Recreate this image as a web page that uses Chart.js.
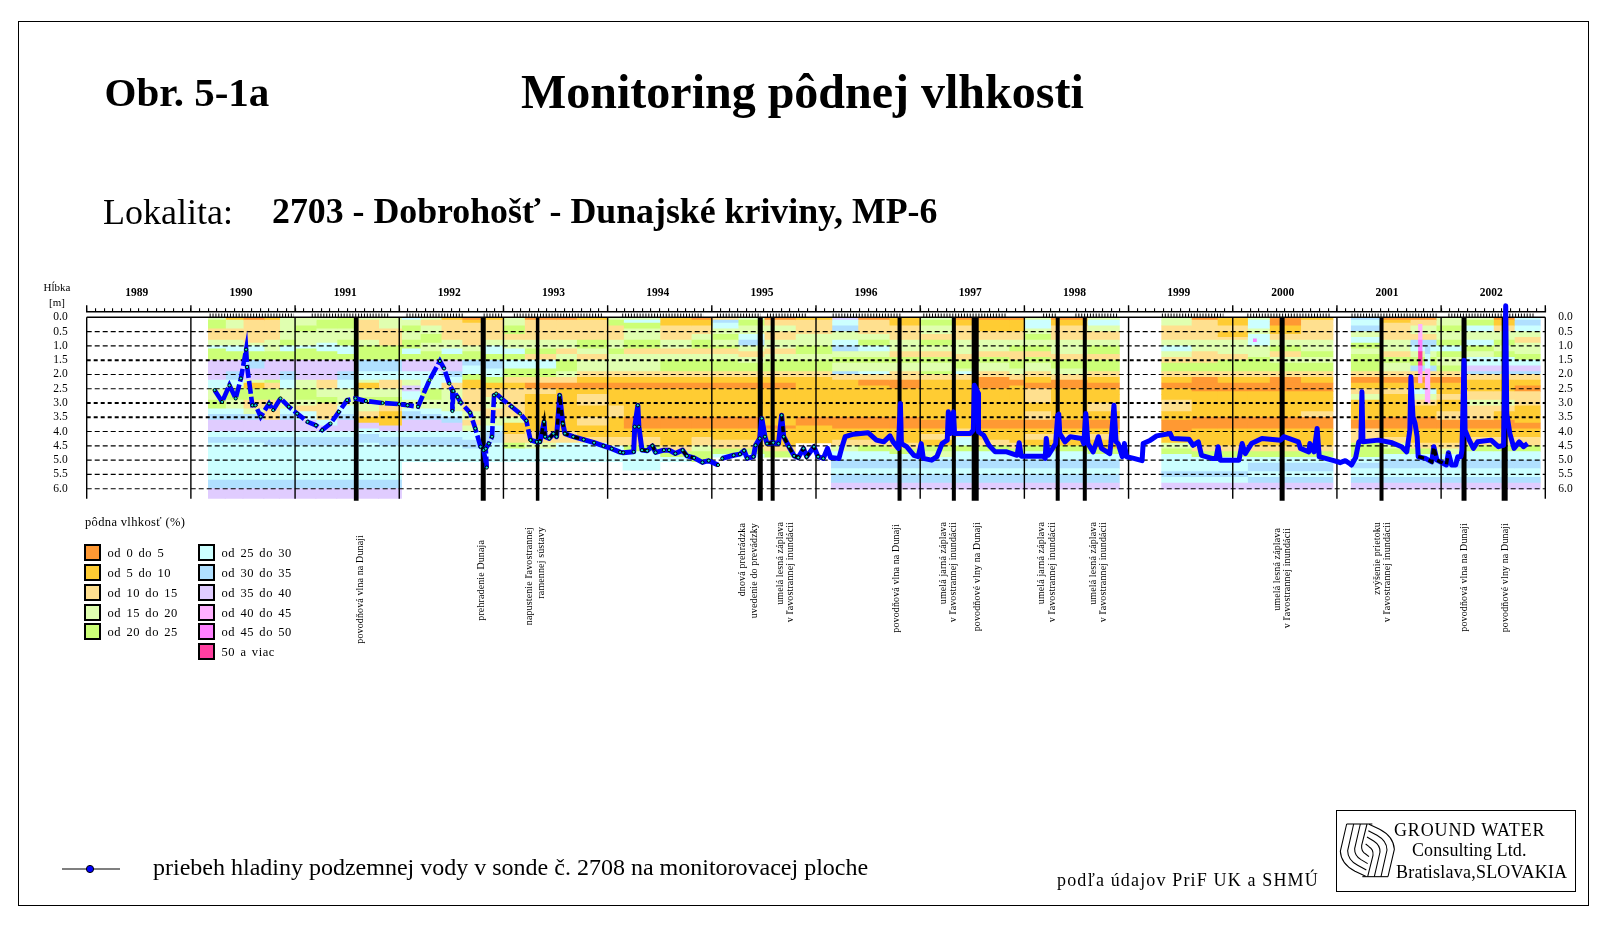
<!DOCTYPE html>
<html lang="sk">
<head>
<meta charset="utf-8">
<title>Monitoring pôdnej vlhkosti</title>
<script src="https://cdn.jsdelivr.net/npm/chart.js@4"></script>
<style>
html,body{margin:0;padding:0;background:#fff}
body{width:1610px;height:927px;position:relative;overflow:hidden;font-family:"Liberation Serif",serif;color:#000}
#chart{position:absolute;left:0;top:0;width:1610px;height:927px}
.t{position:absolute;white-space:nowrap;line-height:1}
.b{font-weight:bold}
.v{position:absolute;writing-mode:vertical-rl;transform:rotate(180deg);white-space:nowrap;font-size:10px;line-height:12px;width:12px;letter-spacing:.12px}
.sw{position:absolute;width:13px;height:13px;border:2px solid #000}
#frame{position:absolute;left:18px;top:21px;width:1569px;height:883px;border:1.5px solid #000}
#logo{position:absolute;left:1336px;top:810px;width:238px;height:80px;border:1.2px solid #000}
svg{position:absolute;overflow:visible}
</style>
</head>
<body>
<div id="frame"></div>
<canvas id="chart" width="1610" height="927"></canvas>
<div class="t b" style="left:104.5px;top:72px;font-size:41px">Obr. 5-1a</div>
<div class="t b" style="left:521px;top:68px;font-size:48px">Monitoring pôdnej vlhkosti</div>
<div class="t" style="left:103px;top:194px;font-size:36px">Lokalita:</div>
<div class="t b" style="left:272px;top:194px;font-size:35.8px">2703 - Dobrohošť - Dunajské kriviny, MP-6</div>
<div class="t" style="left:42px;top:282px;font-size:11px;width:30px;text-align:center">Hĺbka</div>
<div class="t" style="left:42px;top:297px;font-size:11px;width:30px;text-align:center">[m]</div>
<div id="legend"></div>
<div id="eventLabels"></div>
<svg style="left:0;top:0" width="1610" height="927">
  <line x1="62" y1="869" x2="120" y2="869" stroke="#000" stroke-width="1.2"/>
  <circle cx="90" cy="869" r="3.6" fill="#0000ff" stroke="#000" stroke-width="1"/>
</svg>
<div class="t" style="left:153px;top:855px;font-size:24px" id="note">priebeh hladiny podzemnej vody v sonde č. 2708 na monitorovacej ploche</div>
<div class="t" style="left:1057px;top:871px;font-size:18px;letter-spacing:1.15px">podľa údajov PriF UK a SHMÚ</div>
<div id="logo"></div>
<svg style="left:1335px;top:808px" width="90" height="80" viewBox="0 0 270 240">
  <g fill="none" stroke="#000" stroke-width="3.2">
    <g id="swirl">
      <path d="M35 48L16 130Q18 168 60 190L92 205"/>
      <path d="M56 48L38 128Q38 155 68 172L94 186"/>
      <path d="M76 48L59 122Q58 142 78 155L98 167"/>
      <path d="M96 48L80 112Q78 130 92 138L102 146"/>
      <path d="M35 48L112 48"/>
    </g>
    <use href="#swirl" transform="rotate(180 97 127)"/>
  </g>
</svg>
<div class="t" style="left:1394px;top:821px;font-size:18px;letter-spacing:.85px">GROUND WATER</div>
<div class="t" style="left:1412px;top:841px;font-size:18px;letter-spacing:.1px">Consulting Ltd.</div>
<div class="t" style="left:1396px;top:863px;font-size:18px;letter-spacing:.22px">Bratislava,SLOVAKIA</div>

<script>
// ---------- values ----------
const yearLabels = ['1989','1990','1991','1992','1993','1994','1995','1996','1997','1998','1999','2000','2001','2002'];
const depthTicks = [0,0.5,1,1.5,2,2.5,3,3.5,4,4.5,5,5.5,6];
const boldDepthLines = [1.5,3,3.5];

const classLabels = ['od 0 do 5','od 5 do 10','od 10 do 15','od 15 do 20','od 20 do 25','od 25 do 30','od 30 do 35','od 35 do 40','od 40 do 45','od 45 do 50','50 a viac'];
const classColors = ['#FF9933','#FFCC33','#FFE08F','#E0FFB0','#CCFF77','#CCFFFF','#B0E0FF','#E0CCFF','#FFB0FF','#FF80FF','#FF3FA0'];

// start year, end year, "end depth in decimetres:moisture class" runs
const moistureColumns = [
[1990.17,1990.33,"1:3,4:4,8:2,10:3,11:5,15:4,19:7,22:7,25:5,29:3,32:4,34:5,36:6,40:7,42:5,44:6,57:5,60:6,63.5:7"],
[1990.33,1990.5,"1:1,4:3,8:2,10:3,12:5,15:4,19:7,22:6,24:5,25:3,29:4,32:3,34:5,36:6,40:7,42:5,44:6,57:5,60:6,63.5:7"],
[1990.5,1990.7,"1:0,3:2,7:2,9:2,10:3,12:5,15:4,18:6,22:7,23:3,25:1,29:4,32:2,34:3,36:6,40:7,42:5,44:6,57:5,60:6,63.5:7"],
[1990.7,1990.85,"1:1,4:2,8:2,10:3,12:3,15:4,19:7,22:7,23:4,25:2,29:4,33:2,36:2,38:7,40:7,42:5,45:6,57:5,60:6,63.5:7"],
[1990.85,1991,"1:3,4:3,8:3,10:4,12:5,15:4,19:7,22:6,25:5,29:3,32:3,34:5,36:6,40:7,42:5,45:6,57:5,60:6,63.5:7"],
[1991,1991.2,"1:3,3:3,5:4,8:3,10:3,11:5,15:4,19:7,22:7,25:3,29:4,31:3,33:2,36:5,40:7,42:5,45:6,57:5,60:6,63.5:7"],
[1991.2,1991.4,"1:3,4:4,7:3,9:3,12:5,15:4,18:7,22:7,25:2,28:3,30:4,36:2,38:5,40:7,42:5,45:6,57:5,60:6,63.5:7"],
[1991.4,1991.58,"1:4,4:4,8:3,10:4,13:5,15:4,19:7,22:6,25:5,28:3,31:3,34:5,36:6,40:7,42:5,45:6,57:5,60:6,63.5:7"],
[1991.58,1991.8,"1:3,3:2,5:2,8:2,10:3,12:4,15:4,19:6,22:5,23:3,25:1,28:3,30:4,33:3,35:2,37:1,39:7,41:5,44:6,57:5,60:6,63.5:7"],
[1991.8,1992.02,"1:3,4:3,8:2,10:2,12:4,15:4,19:6,22:5,25:2,28:3,31:4,33:2,38:1,40:7,42:5,45:6,57:5,60:6,63.5:7"],
[1992.02,1992.2,"1:5,3:3,5:4,8:3,11:4,13:5,15:4,19:7,22:5,24:3,26:7,29:5,32:3,33:5,36:6,40:7,42:5,45:6,50.5:5"],
[1992.2,1992.4,"1:3,3:2,6:3,9:4,12:3,15:4,19:7,22:5,25:5,29:4,32:3,34:5,36:6,40:7,42:5,45:6,50.5:5"],
[1992.4,1992.6,"1:1,2:2,5:2,8:2,11:3,13:5,15:4,19:7,21:6,23:5,25:2,29:3,33:3,35:5,37:6,40:7,42:5,45:6,50.5:5"],
[1992.6,1992.8,"1:0,2:1,5:2,8:2,10:2,12:3,15:4,17:6,20:5,22:4,25:1,29:2,33:2,36:3,38:2,40:3,43:5,46:6,50.5:5"],
[1992.8,1993,"1:1,3:2,6:2,8:2,10:3,13:5,15:4,18:6,21:5,23:4,25:1,28:2,32:3,35:2,38:3,40:5,44:6,46:5,50.5:5"],
[1993,1993.2,"1:3,3:3,6:4,8:2,11:3,13:5,15:4,18:5,21:4,23:2,25:1,27:2,31:2,35:2,37:3,41:1,44:2,46:4,50.5:5"],
[1993.2,1993.5,"1:0,3:2,6:2,8:2,11:3,13:4,15:2,18:5,21:4,23:2,25:0,27:2,31:1,35:1,38:1,40:1,44:2,46:3,50.5:5"],
[1993.5,1993.7,"1:0,3:2,8:2,11:3,13:2,15:3,19:4,21:3,23:2,25:0,27:1,31:1,35:1,38:1,40:1,44:2,46:5,50.5:5"],
[1993.7,1994,"1:1,3:2,8:2,11:4,13:3,15:2,19:3,21:2,23:1,25:0,27:1,31:2,35:1,38:2,42:1,44:2,46:5,50.5:5"],
[1994,1994.15,"1:3,3:4,8:2,11:3,13:4,15:3,19:3,21:2,23:1,25:0,27:1,31:1,35:2,38:1,42:1,45:2,47:5,50.5:5"],
[1994.15,1994.5,"1:3,2:5,4:4,8:3,11:4,13:2,15:3,19:3,21:2,23:1,25:0,27:1,31:1,35:1,39:0,42:1,45:2,47:4,53.5:5"],
[1994.5,1994.8,"1:1,3:1,6:2,8:2,11:3,13:2,15:3,19:4,21:2,23:1,25:0,27:1,35:1,39:0,42:1,45:1,47:2,49:4,50.5:5"],
[1994.8,1995,"1:0,3:1,6:2,8:3,11:4,13:2,15:3,19:4,21:2,23:1,25:0,27:1,35:1,39:0,42:1,45:2,47:3,50.5:4"],
[1995,1995.25,"1:2,2:6,4:5,6:3,8:4,10:3,11:4,13:2,15:3,19:4,21:2,23:1,25:0,27:1,35:1,39:0,43:1,46:2,48:4,49:5"],
[1995.25,1995.5,"1:3,3:4,6:3,8:5,10:6,12:3,14:2,16:3,19:4,21:2,23:1,25:0,27:1,35:1,39:0,43:1,46:2,48:4,49:5"],
[1995.5,1995.8,"1:0,3:2,5:3,8:2,11:3,13:2,15:3,19:4,21:2,23:1,25:0,27:1,35:1,38:1,39:0,42:1,45:1,47:2,49:4"],
[1995.8,1996.15,"1:1,3:2,6:2,8:3,10:3,13:4,15:3,19:4,21:2,23:1,25:1,27:1,35:1,38:0,42:1,44:1"],
[1996.15,1996.4,"1:7,3:5,5:6,8:3,10:5,12:6,14:3,16:4,19:3,20:6,22:2,25:1,27:1,33:1,35:1,39:0,41:1,43:1,45:2,47:3,50:5,53:6,55:5,58:6,60.2:7"],
[1996.4,1996.7,"1:0,3:2,6:2,8:3,10:4,12:5,14:3,16:4,19:3,20:5,22:2,24:0,27:1,33:1,35:1,39:0,41:1,43:1,45:2,47:4,50:5,53:6,55:5,58:6,60.2:7"],
[1996.7,1997,"1:1,3:1,6:2,8:2,10:3,12:3,14:2,16:4,19:3,22:2,25:0,27:1,33:1,35:1,39:0,41:1,44:1,46:2,48:4,50:5,53:6,55:5,58:6,60.2:7"],
[1997,1997.3,"1:3,3:4,6:3,8:2,10:4,12:3,14:2,16:4,19:3,20:4,22:2,24:1,27:1,33:1,36:1,39:0,41:1,43:2,45:1,47:4,49:3,50:5,53:6,55:5,58:6,60.2:7"],
[1997.3,1997.55,"1:0,3:1,6:2,8:2,10:3,13:3,15:2,18:4,19:3,20:5,22:2,25:1,27:1,33:1,36:1,39:1,42:2,45:5,47:4,50:5,53:6,55:5,58:6,60.2:7"],
[1997.55,1997.85,"1:0,3:1,5:1,8:2,10:3,12:3,14:2,16:4,19:3,21:2,23:0,25:0,27:1,33:1,36:1,39:0,41:1,43:1,45:2,47:4,50:5,53:6,55:5,58:6,60.2:7"],
[1997.85,1998,"1:0,2:1,5:1,8:2,10:3,12:4,15:2,18:4,20:3,22:2,24:0,26:1,33:1,36:1,39:0,41:1,44:1,46:2,48:4,50:5,53:6,55:5,58:6,60.2:7"],
[1998,1998.25,"1:3,2:5,4:5,6:3,8:4,10:3,12:4,14:2,16:4,19:3,21:2,23:1,25:0,27:2,30:2,33:1,36:2,39:0,41:1,43:2,45:1,47:4,50:5,53:6,55:5,58:6,60.2:7"],
[1998.25,1998.6,"1:0,3:1,6:2,8:2,10:3,13:3,15:2,18:4,20:3,22:2,25:0,27:1,31:1,36:1,39:0,41:1,43:2,45:1,47:4,50:5,53:6,55:5,58:6,60.2:7"],
[1998.6,1998.91,"1:3,3:5,5:3,8:2,10:3,13:4,15:2,19:4,21:2,23:1,25:0,27:1,30:1,33:2,36:1,39:0,41:1,43:2,46:1,48:4,50:5,53:6,55:5,58:6,60.2:7"],
[1999.32,1999.6,"1:3,3:3,5:2,8:2,10:3,12:5,14:3,16:2,19:4,21:2,23:1,25:0,27:1,29:1,33:2,36:1,40:0,42:1,44:1,46:3,48:4,50:5,54:5,56:6,58:5,60.2:7"],
[1999.6,1999.85,"1:0,3:2,6:2,8:2,10:3,12:3,14:2,16:2,19:4,21:2,23:0,26:0,28:1,33:1,35:1,39:0,41:1,45:1,47:2,49:4,50:5,54:5,56:6,58:5,60.2:7"],
[1999.85,2000.14,"1:1,3:1,5:2,7:1,8:2,10:3,13:3,15:2,19:4,21:2,23:1,26:0,28:1,33:1,35:1,39:0,41:1,45:1,47:2,49:4,50:5,54:5,56:6,58:5,60.2:7"],
[2000.14,2000.35,"1:3,2:5,4:5,6:3,8:5,10:5,12:3,14:3,16:4,19:4,21:2,23:1,26:0,28:1,33:1,35:1,39:0,41:1,45:1,47:2,49:4,51:5,54:6,56:5,58:6,60.2:7"],
[2000.35,2000.65,"1:0,3:0,6:1,8:2,10:3,12:4,14:2,16:3,19:4,21:2,23:0,26:0,28:1,33:1,35:1,39:0,41:1,45:1,47:2,49:4,51:5,54:6,56:5,58:6,60.2:7"],
[2000.65,2000.96,"1:1,3:2,6:2,8:2,10:3,12:3,14:4,16:3,19:4,21:2,23:1,26:0,28:1,33:1,35:2,39:0,41:1,45:1,47:2,49:4,51:5,54:6,56:5,58:6,60.2:7"],
[2001.14,2001.42,"1:6,3:5,5:6,7:3,9:5,11:4,13:3,15:4,19:4,21:2,23:0,25:1,27:2,29:3,33:1,36:1,39:0,41:2,44:2,46:4,49:4,51:5,53:6,56:5,58:6,60.2:7"],
[2001.42,2001.7,"1:0,2:1,5:2,8:2,10:3,12:3,14:2,16:4,19:3,21:2,23:0,25:1,27:2,30:1,35:1,39:0,42:1,44:2,46:3,48:4,50:5,53:6,56:5,58:6,60.2:7"],
[2001.7,2001.95,"1:0,3:2,6:3,8:2,10:6,12:5,14:3,17:4,19:6,21:2,23:0,25:1,27:5,29:3,31:2,35:1,39:0,42:1,44:1,46:2,48:4,50:5,53:6,56:5,58:6,60.2:7"],
[2001.95,2002.2,"1:3,3:3,5:4,8:3,10:4,12:5,14:4,17:3,19:4,21:2,23:0,25:1,27:1,29:2,33:1,36:2,39:0,42:1,44:1,46:2,48:3,50:5,53:6,56:5,58:6,60.2:7"],
[2002.2,2002.5,"1:3,3:4,5:5,8:3,10:5,12:4,14:3,17:5,19:7,20:6,22:2,24:1,26:1,29:2,31:3,33:2,36:2,39:0,42:1,45:2,47:4,50:5,53:6,56:5,58:6,60.2:7"],
[2002.5,2002.7,"1:0,3:1,5:2,8:3,10:4,12:3,14:4,17:5,19:7,20:6,22:2,24:1,26:1,29:2,31:3,33:2,36:1,39:0,42:1,45:2,47:4,50:5,53:6,56:5,58:6,60.2:7"],
[2002.7,2002.95,"1:5,3:6,5:5,7:3,9:2,11:3,13:3,15:4,17:5,19:7,20:6,22:2,24:1,26:0,28:2,31:2,34:1,37:1,39:0,42:1,45:2,47:4,50:5,53:6,56:5,58:6,60.2:7"]
];
// narrow high-moisture cells: start, end, top dm, "runs"
const moistureSpikes = [
[2001.785,2001.815,2.5,"8:8,12:9,17:a,20:9,23:8"],
[2001.85,2001.89,10,"13:6,18:5,24:8,30:8"],
[2000.2,2000.225,7.5,"8.5:9"]
];

const eventTimes  = [1991.587,1992.806,1993.328,1995.465,1995.584,1996.802,1997.323,1997.528,1998.32,1998.58,2000.474,2001.428,2002.22,2002.61];
const eventWidths = [4.7,5,3.5,5,4,4,4,7,4,4,5,4,5,6];

const eventLabelLines = [
["povodňová vlna na Dunaji",360,535],
["prehradenie Dunaja",481,540],
["napustenie ľavostrannej",529,527],["ramennej sústavy",541,527],
["dnová prehrádzka",742,523],["uvedenie do prevádzky",754,523],
["umelá lesná záplava",780,522],["v ľavostrannej inundácii",790,522],
["povodňová vlna na Dunaji",896,524],
["umelá jarná záplava",943,522],["v ľavostrannej inundácii",953,522],
["povodňové vlny na Dunaji",977,522],
["umelá jarná záplava",1041,522],["v ľavostrannej inundácii",1052,522],
["umelá lesná záplava",1093,522],["v ľavostrannej inundácii",1103,522],
["umelá lesná záplava",1277,528],["v ľavostrannej inundácii",1287,528],
["zvýšenie prietoku",1377,522],["v ľavostrannej inundácii",1387,522],
["povodňová vlna na Dunaji",1464,523],
["povodňové vlny na Dunaji",1505,523]
];

// year, depth [m]; null = break in the record
const groundwaterEarly = [
[1990.228,2.55],[1990.30,2.96],[1990.37,2.38],[1990.43,2.84],[1990.48,2.14],[1990.53,1.13],[1990.54,1.74],[1990.59,3.08],[1990.62,3.08],[1990.67,3.48],[1990.75,3.02],[1990.79,3.25],[1990.86,2.84],[1990.94,3.13],[1991.02,3.37],[1991.12,3.66],[1991.20,3.78],[1991.26,3.95],[1991.34,3.72],[1991.42,3.31],[1991.50,2.90],[1991.58,2.84],[1991.68,2.93],[1991.84,3.0],[1992.0,3.04],[1992.08,3.08],[1992.18,3.13],[1992.29,2.20],[1992.39,1.53],[1992.43,1.79],[1992.48,2.32],[1992.51,2.58],[1992.51,3.28],[1992.52,2.58],[1992.56,2.79],[1992.59,2.98],[1992.68,3.34],[1992.73,3.89],[1992.78,4.53],[1992.81,4.65],[1992.84,5.26],[1992.83,4.6],[1992.86,4.42],[1992.89,4.18],[1992.91,2.73],[1992.93,2.67],[1992.98,2.84],[1993.08,3.13],[1993.16,3.37],[1993.22,3.62],[1993.26,4.30]
];
const groundwaterLate = [
[1993.26,4.30],[1993.32,4.36],[1993.35,4.36],[1993.39,3.66],[1993.40,4.18],[1993.44,4.24],[1993.48,4.07],[1993.51,4.18],[1993.54,2.73],[1993.57,3.72],[1993.59,4.07],[1993.67,4.18],[1993.77,4.28],[1993.87,4.39],[1993.96,4.50],[1994.04,4.60],[1994.12,4.72],[1994.15,4.74],[1994.25,4.71],[1994.26,3.83],[1994.29,3.08],[1994.30,3.83],[1994.33,4.65],[1994.38,4.67],[1994.43,4.50],[1994.46,4.73],[1994.54,4.65],[1994.59,4.65],[1994.65,4.77],[1994.72,4.65],[1994.76,4.85],[1994.83,4.92],[1994.91,5.08],[1994.97,5.02],[1995.06,5.17],null,
[1995.10,4.94],[1995.21,4.83],[1995.27,4.79],[1995.31,4.67],[1995.34,4.94],[1995.40,4.88],[1995.42,4.48],[1995.46,4.24],[1995.48,3.54],[1995.51,4.18],[1995.53,4.42],[1995.59,4.39],[1995.64,4.42],[1995.67,3.43],[1995.69,4.18],[1995.74,4.53],[1995.79,4.85],[1995.83,4.91],[1995.88,4.59],[1995.91,4.88],[1995.98,4.53],[1996.02,4.88],[1996.07,4.94],[1996.11,4.59],[1996.14,4.91],[1996.22,4.94],[1996.25,4.53],[1996.28,4.18],[1996.36,4.09],[1996.50,4.04],[1996.58,4.30],[1996.65,4.36],[1996.71,4.15],[1996.74,4.36],[1996.79,4.59],[1996.81,3.02],[1996.82,4.42],[1996.87,4.53],[1996.94,4.83],[1996.98,4.88],[1997.01,4.42],[1997.03,4.94],[1997.11,5.0],[1997.16,4.88],[1997.21,4.42],[1997.26,4.30],[1997.27,3.31],[1997.29,4.07],[1997.32,3.31],[1997.33,4.07],[1997.48,4.07],[1997.51,3.95],[1997.52,2.38],[1997.56,2.67],[1997.56,4.01],[1997.61,4.13],[1997.66,4.48],[1997.72,4.71],[1997.83,4.71],[1997.93,4.83],[1997.95,4.39],[1997.97,4.86],[1998.18,4.86],[1998.20,4.94],[1998.21,4.24],[1998.23,4.83],[1998.30,4.42],[1998.32,3.43],[1998.33,3.39],[1998.34,4.07],[1998.39,4.36],[1998.44,4.18],[1998.55,4.24],[1998.57,4.42],[1998.59,3.37],[1998.61,4.42],[1998.66,4.71],[1998.71,4.18],[1998.74,4.59],[1998.82,4.77],[1998.83,4.42],[1998.86,3.08],[1998.88,4.36],[1998.90,4.42],[1998.94,4.88],[1998.96,4.42],[1998.98,4.88],[1999.05,4.94],[1999.13,5.02],[1999.14,4.42],[1999.21,4.30],[1999.27,4.15],[1999.40,4.07],[1999.42,4.24],[1999.58,4.27],[1999.62,4.48],[1999.67,4.36],[1999.70,4.83],[1999.80,4.94],[1999.84,4.94],[1999.86,4.53],[1999.88,5.0],[2000.06,5.0],[2000.09,4.42],[2000.12,4.77],[2000.18,4.42],[2000.28,4.24],[2000.46,4.30],[2000.49,4.18],[2000.63,4.36],[2000.65,4.59],[2000.73,4.71],[2000.74,4.42],[2000.78,4.71],[2000.81,3.89],[2000.83,4.88],[2000.97,5.02],[2001.03,5.09],[2001.08,5.02],[2001.12,5.11],[2001.14,5.17],[2001.18,4.91],[2001.21,4.36],[2001.23,4.30],[2001.24,2.61],[2001.25,4.36],[2001.40,4.30],[2001.53,4.39],[2001.62,4.53],[2001.67,4.71],[2001.70,3.95],[2001.71,2.09],[2001.73,3.48],[2001.75,3.72],[2001.77,4.18],[2001.78,4.88],[2001.85,4.94],[2001.91,5.06],[2001.93,4.53],[2001.96,5.0],[2002.05,5.17],[2002.07,4.74],[2002.10,5.17],[2002.14,5.17],[2002.16,4.88],[2002.19,4.88],[2002.20,4.65],[2002.22,1.50],[2002.23,3.95],[2002.27,4.30],[2002.31,4.59],[2002.35,4.36],[2002.48,4.30],[2002.55,4.53],[2002.60,4.48],[2002.62,-0.40],[2002.63,3.37],[2002.66,4.07],[2002.70,4.59],[2002.75,4.36],[2002.79,4.53],[2002.83,4.42]
];
// stretches of the record printed in black
const blackRanges = [[1993.3,1993.6],[1993.62,1993.86],[1994.15,1994.22],[1994.33,1994.5],[1994.7,1994.84],[1995.0,1995.06],[1995.52,1995.62],[1995.66,1996.02],[2001.78,2002.08]];
// stretches of the record with a marker at each reading
const markerRanges = [[1990.2,1996.1]];
// stretches with dense reading-date ticks above the 0.0 line
const readingRuns = [[1990.18,1990.99],[1991.16,1991.9],[1992.07,1992.62],[1992.81,1993],[1993.1,1993.95],[1994.14,1994.92],[1995.05,1995.47],[1995.53,1995.91],[1996.16,1996.82],[1997.03,1997.83],[1998.18,1998.31],[1998.49,1998.89],[1999.32,1999.91],[2000.14,2000.94],[2001.14,2001.97],[2002.07,2002.89]];

// ---------- page layout constants ----------
const YEAR_PX = 104.19;
const Y_TOP = -0.21, Y_BOTTOM = 6.35, TICK_TOP = -0.42, EVENT_BOTTOM = 6.42;

// ---------- datasets ----------
function runsToBars(t0, t1, top, runs) {
  const out = []; let d = top;
  runs.split(',').forEach(r => {
    const [end, c] = r.split(':');
    out.push({x:(t0+t1)/2, y:[d/10, parseFloat(end)/10], c:parseInt(c,16)});
    d = parseFloat(end);
  });
  return out;
}
const barDataset = (col, top, runs, order) => ({
  type:'bar', label:'vlhkosť', order, grouped:false,
  data: runsToBars(col[0], col[1], top, runs),
  barThickness:(col[1]-col[0])*YEAR_PX+0.5,
  backgroundColor: ctx => classColors[ctx.raw ? ctx.raw.c : 0],
  borderWidth:0, borderSkipped:false
});
const lineDataset = (data, o) => Object.assign({
  type:'scatter', showLine:true, pointRadius:0, fill:false, tension:0, clip:false, spanGaps:false, borderColor:'#000'
}, o, {data});
const toXY = p => p ? {x:p[0], y:p[1]} : {x:null, y:null};
const inRanges = (p, rs) => p && rs.some(r => p[0] >= r[0] && p[0] <= r[1]);
const allLevels = groundwaterEarly.concat(groundwaterLate);
const blackLevels = [];
allLevels.forEach(p => { blackLevels.push(inRanges(p, blackRanges) ? toXY(p) : {x:null,y:null}); });

const datasets = [];
moistureColumns.forEach(c => datasets.push(barDataset(c, 0, c[2], 20)));
moistureSpikes.forEach(c => datasets.push(barDataset(c, c[2], c[3], 19)));
depthTicks.forEach(d => {
  const bold = boldDepthLines.includes(d);
  datasets.push(lineDataset([{x:1989,y:d},{x:2003,y:d}], {
    order:15, borderWidth: d===0 ? 1.6 : (bold ? 2 : 1.1),
    borderDash: d===0 ? [] : (bold ? [4,3] : [5,3])
  }));
});
const yearLines = [], yearTicks = [];
for (let i = 0; i <= yearLabels.length; i++) {
  const y = 1989 + i;
  yearLines.push({x:y,y:0},{x:y,y:Y_BOTTOM},{x:null,y:null});
  yearTicks.push({x:y,y:Y_TOP},{x:y,y:TICK_TOP},{x:null,y:null});
}
datasets.push(lineDataset(yearLines, {order:14, borderWidth:1.4}));
datasets.push(lineDataset(yearTicks, {order:14, borderWidth:1.4}));
const readingPts = [];
readingRuns.forEach(r => readingPts.push({x:r[0],y:-0.07},{x:r[1],y:-0.07},{x:null,y:null}));
datasets.push(lineDataset(readingPts, {order:14, borderWidth:3.4, borderDash:[1,1.9]}));
eventTimes.forEach((t,i) => datasets.push(lineDataset([{x:t,y:0},{x:t,y:EVENT_BOTTOM}], {order:10, borderWidth:eventWidths[i]})));
datasets.push(lineDataset(groundwaterEarly.map(toXY), {order:5, borderColor:'#0000ff', borderWidth:4.6, borderDash:[13,3]}));
datasets.push(lineDataset(groundwaterLate.map(toXY), {order:4, borderColor:'#0000ff', borderWidth:5, borderJoinStyle:'round'}));
datasets.push(lineDataset(blackLevels, {order:3, borderColor:'#000', borderWidth:3.4, borderDash:[6,5]}));
datasets.push({type:'scatter', order:2, clip:false, showLine:false, data:allLevels.filter(p=>inRanges(p,markerRanges)).map(toXY),
  pointRadius:1.6, pointBackgroundColor:'#19d8d8', pointBorderColor:'#000', pointBorderWidth:1});

// ---------- chart ----------
const fontName = '"Liberation Serif", serif';
const months = [];
for (let i = 0; i <= 14*12; i++) months.push({value:1989 + i/12});
const depthAxis = (position, width, padding) => ({
  type:'linear', position, reverse:true, min:Y_TOP, max:Y_BOTTOM,
  afterBuildTicks:s => { s.ticks = depthTicks.map(v => ({value:v})); },
  afterFit:s => { s.width = width; },
  grid:{display:false}, border:{display:false},
  ticks:{autoSkip:false, padding, color:'#000', font:{family:fontName,size:11.5}, callback:v => v.toFixed(1)}
});
new Chart(document.getElementById('chart'), {
  type:'bar',
  data:{datasets},
  options:{
    responsive:false, animation:false, events:[],
    layout:{autoPadding:false, padding:{left:0,right:0,top:0,bottom:927-498.7}},
    plugins:{legend:{display:false}, tooltip:{enabled:false}},
    scales:{
      x:{
        type:'linear', position:'top', min:1989, max:2003, offset:false,
        afterBuildTicks:s => { s.ticks = months.map(m => ({value:m.value})); },
        afterFit:s => { s.height = 311.3; },
        grid:{drawOnChartArea:false, drawTicks:true, tickLength:3, color:'#000', lineWidth:1.1, offset:false},
        border:{display:true, color:'#000', width:1.6},
        ticks:{
          autoSkip:false, maxRotation:0, minRotation:0, padding:8.5, labelOffset:-2, color:'#000',
          font:{family:fontName, size:11.5, weight:'bold'},
          callback:v => {
            const f = v - Math.floor(v);
            return Math.abs(f-0.5) < 1e-6 ? yearLabels[Math.floor(v)-1989] : '';
          }
        }
      },
      y:depthAxis('left', 86.7, 11),
      y2:depthAxis('right', 1610-1545.3, 5)
    }
  }
});

// ---------- legend and event labels (real text) ----------
const legend = document.getElementById('legend');
let html = '<div class="t" style="left:85px;top:516px;font-size:12.5px;letter-spacing:.35px">pôdna vlhkosť (%)</div>';
classLabels.forEach((lab,i) => {
  const col2 = i >= 5, row = col2 ? i-5 : i;
  const sx = col2 ? 198 : 84, tx = col2 ? 221.5 : 107.5, y = 544 + row*19.85;
  html += `<div class="sw" style="left:${sx}px;top:${y}px;background:${classColors[i]}"></div>`;
  html += `<div class="t" style="left:${tx}px;top:${y+3}px;font-size:12.5px;letter-spacing:.6px;word-spacing:1.5px">${lab}</div>`;
});
legend.innerHTML = html;
document.getElementById('eventLabels').innerHTML = eventLabelLines.map(l =>
  `<div class="v" style="left:${l[1]-6}px;top:${l[2]}px">${l[0]}</div>`).join('');
</script>
</body>
</html>
